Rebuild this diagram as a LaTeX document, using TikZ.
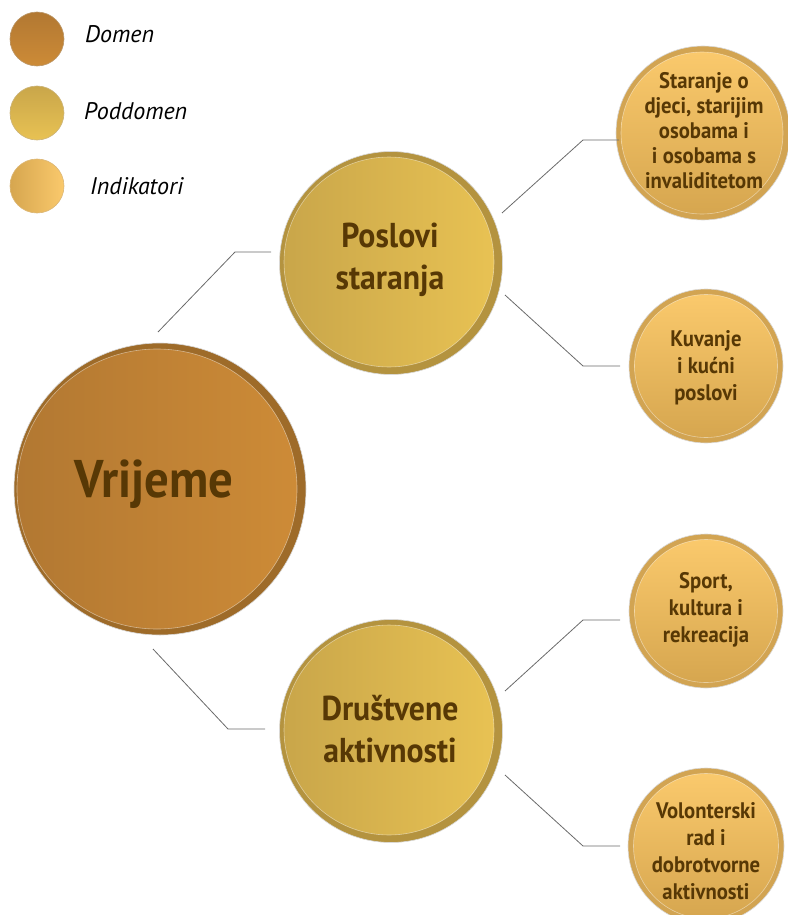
\documentclass[tikz,border=0pt]{standalone}
\usepackage{fontspec}
\setmainfont{PT Sans}
\newfontfamily\condfont{PT Sans}[FakeStretch=0.92]
\definecolor{txt}{HTML}{573805}
\definecolor{linec}{HTML}{6A6A6A}
\definecolor{domA}{HTML}{B27832}
\definecolor{domB}{HTML}{CD8B37}
\definecolor{domR}{HTML}{9E6B29}
\definecolor{podA}{HTML}{C9A64A}
\definecolor{podB}{HTML}{E8C253}
\definecolor{podR}{HTML}{B4933F}
\definecolor{indA}{HTML}{FAC96C}
\definecolor{indB}{HTML}{D6A64F}
\definecolor{indR}{HTML}{D2A452}
\tikzset{
  ringc/.style={circle, inner sep=0pt, outer sep=0pt, draw=white!85!black, line width=0.6pt},
  innerc/.style={circle, inner sep=0pt, outer sep=0pt, draw=white, draw opacity=0.45, line width=0.6pt},
  dom/.style={innerc, left color=domA, right color=domB},
  pod/.style={innerc, left color=podA, right color=podB},
  ind/.style={innerc, top color=indA, bottom color=indB},
  domring/.style={ringc, fill=domR},
  podring/.style={ringc, fill=podR},
  indring/.style={ringc, fill=indR},
  lab/.style={font=\condfont\bfseries, text=txt, align=center, inner sep=0pt},
  leg/.style={font=\fontsize{24}{28}\selectfont\itshape, anchor=west, inner sep=0pt},
  conn/.style={draw=linec, line width=0.8pt},
}
\begin{document}
\begin{tikzpicture}[x=1pt,y=-1pt]
\useasboundingbox (0,0) rectangle (787,915);

% legend
\node[circle, inner sep=0pt, minimum size=54, top color=domA, bottom color=domB, draw=domR!70!white, line width=0.6pt] (lg1) at (37,39) {};
\node[circle, inner sep=0pt, minimum size=54, top color=podA, bottom color=podB, draw=podR!70!white, line width=0.6pt] (lg2) at (37,113) {};
\node[circle, inner sep=0pt, minimum size=54, left color=indB, right color=indA, draw=indR!80!white, line width=0.6pt] (lg3) at (37,186) {};
\node[leg] (lt1) at (85,34) {Domen};
\node[leg] (lt2) at (84,111) {Poddomen};
\node[leg] (lt3) at (90,186) {Indikatori};

% domain
\node[domring, minimum size=292] (vrO) at (160,489) {};
\node[dom, minimum size=280] (vr) at (157,489) {};
\node[lab, font=\condfont\bfseries\fontsize{53}{60}\selectfont] (vrT) at (154,484) {Vrijeme};

% subdomains
\node[podring, minimum size=223] (psO) at (391,263) {};
\node[pod, minimum size=210] (ps) at (389,262) {};
\node[lab, font=\condfont\bfseries\fontsize{34.5}{42}\selectfont] (psT) at (390,260) {Poslovi\\staranja};

\node[podring, minimum size=223] (drO) at (391,731) {};
\node[pod, minimum size=210] (dr) at (389,730) {};
\node[lab, font=\condfont\bfseries\fontsize{34.5}{42}\selectfont] (drT) at (390,729) {Društvene\\aktivnosti};

% indicators
\node[indring, minimum size=174] (s1O) at (703,133) {};
\node[ind, minimum size=162] (s1) at (702,133) {};
\node[lab, font=\condfont\bfseries\fontsize{22.5}{25}\selectfont] (s1T) at (704,131) {Staranje o\\djeci, starijim\\osobama i\\i osobama s\\invaliditetom};

\node[indring, minimum size=154] (k1O) at (706,366) {};
\node[ind, minimum size=143] (k1) at (706,366) {};
\node[lab, font=\condfont\bfseries\fontsize{22.5}{27}\selectfont] (k1T) at (706,368) {Kuvanje\\i kućni\\poslovi};

\node[indring, minimum size=154] (spO) at (706,611) {};
\node[ind, minimum size=143] (sp) at (706,611) {};
\node[lab, font=\condfont\bfseries\fontsize{22.5}{27}\selectfont] (spT) at (706,610) {Sport,\\kultura i\\rekreacija};

\node[indring, minimum size=156] (voO) at (706,846) {};
\node[ind, minimum size=145] (vo) at (706,846) {};
\node[lab, font=\condfont\bfseries\fontsize{22.5}{27}\selectfont] (voT) at (706,851) {Volonterski\\rad i\\dobrotvorne\\aktivnosti};

% connector points
\coordinate (a1) at (158,332);
\coordinate (a2) at (235,252);
\coordinate (a3) at (271,252);
\coordinate (b1) at (153,649);
\coordinate (b2) at (228,729);
\coordinate (b3) at (265,729);
\coordinate (c1) at (502,213);
\coordinate (c2) at (583,140);
\coordinate (c3) at (619,140);
\coordinate (d1) at (505,295);
\coordinate (d2) at (583,366);
\coordinate (d3) at (620,366);
\coordinate (e1) at (505,691);
\coordinate (e2) at (583,620);
\coordinate (e3) at (620,620);
\coordinate (f1) at (505,775);
\coordinate (f2) at (583,846);
\coordinate (f3) at (620,846);

\draw[conn] (a1) -- (a2) -- (a3);
\draw[conn] (b1) -- (b2) -- (b3);
\draw[conn] (c1) -- (c2) -- (c3);
\draw[conn] (d1) -- (d2) -- (d3);
\draw[conn] (e1) -- (e2) -- (e3);
\draw[conn] (f1) -- (f2) -- (f3);
\end{tikzpicture}
\end{document}
